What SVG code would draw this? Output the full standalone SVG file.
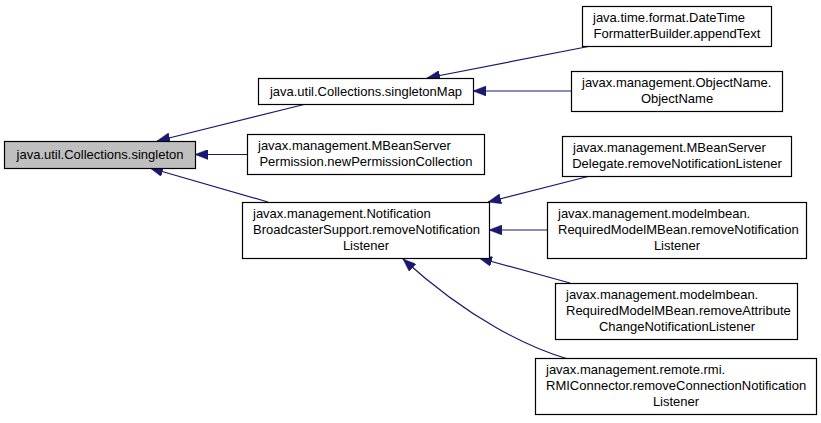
<svg xmlns="http://www.w3.org/2000/svg" width="821" height="423" viewBox="0 0 821 423">
<style>
.box{fill:#ffffff;stroke:#000000;stroke-width:1.2}
.hl{fill:#bfbfbf;stroke:#000000;stroke-width:1.2}
text{font-family:"Liberation Sans",Arial,sans-serif;font-size:13px;fill:#000000}
.c{text-anchor:middle}
.edge{fill:none;stroke:#191970;stroke-width:1.2}
</style>
<defs>
<marker id="ah" markerUnits="userSpaceOnUse" markerWidth="14" markerHeight="10" refX="13" refY="5" orient="auto">
<path d="M0,0 L13,5 L0,10 z" fill="#191970" stroke="#191970" stroke-width="0.5"/>
</marker>
</defs>
<rect width="821" height="423" fill="#ffffff"/>
<g id="edges">
<path class="edge" marker-end="url(#ah)" d="M306,104 L157,141"/>
<path class="edge" marker-end="url(#ah)" d="M247,154.5 L195,154.5"/>
<path class="edge" marker-end="url(#ah)" d="M268,202 L150,168"/>
<path class="edge" marker-end="url(#ah)" d="M591,46 L427,78"/>
<path class="edge" marker-end="url(#ah)" d="M571,91 L473,91"/>
<path class="edge" marker-end="url(#ah)" d="M590,176 L488,202"/>
<path class="edge" marker-end="url(#ah)" d="M547,230 L489,230"/>
<path class="edge" marker-end="url(#ah)" d="M570,283 L479,258"/>
<path class="edge" marker-end="url(#ah)" d="M568,359 C530,348 470,320 403,259"/>
</g>
<g id="singleton">
<rect class="hl" x="4.5" y="141.5" width="191" height="27"/>
<text class="c" x="100" y="159">java.util.Collections.singleton</text>
</g>
<g id="singletonMap">
<rect class="box" x="258.5" y="78.5" width="215" height="26"/>
<text class="c" x="366" y="96">java.util.Collections.singletonMap</text>
</g>
<g id="newPermissionCollection">
<rect class="box" x="247.5" y="134.5" width="237" height="40"/>
<text x="258" y="150">javax.management.MBeanServer</text>
<text class="c" x="366" y="166">Permission.newPermissionCollection</text>
</g>
<g id="broadcasterRemove">
<rect class="box" x="242.5" y="202.5" width="247" height="56"/>
<text x="253" y="218">javax.management.Notification</text>
<text x="253" y="234">BroadcasterSupport.removeNotification</text>
<text class="c" x="366" y="250">Listener</text>
</g>
<g id="appendText">
<rect class="box" x="582.5" y="6.5" width="189" height="40"/>
<text x="593" y="22">java.time.format.DateTime</text>
<text class="c" x="677" y="38">FormatterBuilder.appendText</text>
</g>
<g id="objectName">
<rect class="box" x="571.5" y="71.5" width="211" height="40"/>
<text x="582" y="87">javax.management.ObjectName.</text>
<text class="c" x="677" y="103">ObjectName</text>
</g>
<g id="delegateRemove">
<rect class="box" x="562.5" y="136.5" width="229" height="40"/>
<text x="573" y="152">javax.management.MBeanServer</text>
<text class="c" x="677" y="168">Delegate.removeNotificationListener</text>
</g>
<g id="requiredRemove">
<rect class="box" x="547.5" y="202.5" width="259" height="56"/>
<text x="558" y="218">javax.management.modelmbean.</text>
<text x="558" y="234">RequiredModelMBean.removeNotification</text>
<text class="c" x="677" y="250">Listener</text>
</g>
<g id="requiredRemoveAttr">
<rect class="box" x="555.5" y="283.5" width="242" height="56"/>
<text x="566" y="299">javax.management.modelmbean.</text>
<text x="566" y="315">RequiredModelMBean.removeAttribute</text>
<text class="c" x="677" y="331">ChangeNotificationListener</text>
</g>
<g id="rmiRemove">
<rect class="box" x="535.5" y="358.5" width="281" height="56"/>
<text x="546" y="374">javax.management.remote.rmi.</text>
<text x="546" y="390">RMIConnector.removeConnectionNotification</text>
<text class="c" x="676" y="406">Listener</text>
</g>
</svg>
